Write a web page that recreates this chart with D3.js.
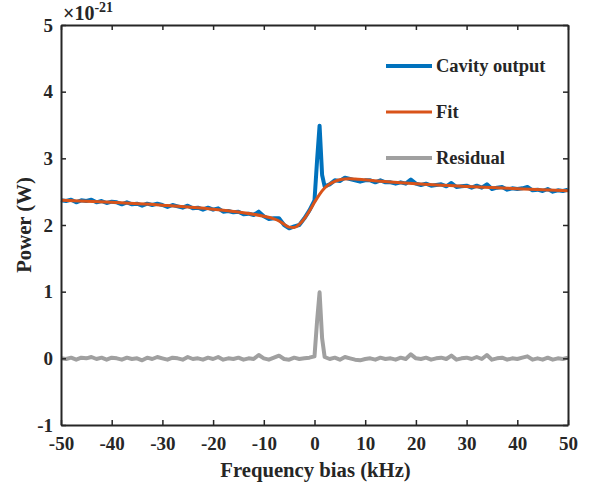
<!DOCTYPE html>
<html>
<head>
<meta charset="utf-8">
<script src="https://cdn.jsdelivr.net/npm/d3@7"></script>
<style>
  body { margin: 0; background: #fff; }
  text { font-family: "Liberation Serif", "Times New Roman", serif; font-weight: bold; fill: #262626; }
</style>
</head>
<body>
<div id="chart-area"></div>
<script>
/* Data (power in units of 1e-21 W) */
var xTicks = [-50, -40, -30, -20, -10, 0, 10, 20, 30, 40, 50];
var yTicks = [-1, 0, 1, 2, 3, 4, 5];

// measured cavity output
var cavityFreq = [-50,-49,-48,-47,-46,-45,-44,-43,-42,-41,-40,-39,-38,-37,-36,-35,-34,-33,-32,-31,
  -30,-29,-28,-27,-26,-25,-24,-23,-22,-21,-20,-19,-18,-17,-16,-15,-14,-13,-12,-11,
  -10,-9,-8,-7,-6,-5,-4,-3,-2,-1,0,0.5,1,1.5,2,3,4,5,6,7,8,9,
  10,11,12,13,14,15,16,17,18,19,20,21,22,23,24,25,26,27,28,29,
  30,31,32,33,34,35,36,37,38,39,40,41,42,43,44,45,46,47,48,49,50];
var cavityPower = [2.37,2.36,2.38,2.34,2.37,2.36,2.38,2.34,2.36,2.33,2.35,2.34,2.31,2.34,2.31,2.32,2.29,2.32,2.30,2.32,
  2.30,2.27,2.30,2.28,2.26,2.29,2.25,2.26,2.23,2.26,2.23,2.25,2.20,2.21,2.19,2.20,2.16,2.17,2.15,2.20,
  2.13,2.09,2.10,2.10,2.00,1.95,1.98,2.00,2.10,2.22,2.37,2.96,3.49,2.75,2.58,2.61,2.67,2.66,2.71,2.69,2.67,2.65,
  2.67,2.67,2.64,2.67,2.64,2.64,2.62,2.64,2.62,2.68,2.62,2.60,2.62,2.59,2.60,2.61,2.58,2.63,2.57,2.58,
  2.59,2.56,2.59,2.56,2.61,2.54,2.56,2.57,2.53,2.55,2.54,2.55,2.57,2.52,2.53,2.51,2.54,2.50,2.52,2.51,2.53];

// fitted lineshape
var fitFreq = [-50,-40,-30,-20,-15,-10,-8,-7,-6,-5,-4,-3,-2,-1,0,1,2,3,4,5,6,7,8,10,15,20,25,30,40,50];
var fitPower = [2.37,2.34,2.297,2.238,2.194,2.131,2.092,2.06,2.01,1.968,1.962,2.01,2.095,2.21,2.34,2.46,2.555,2.615,2.655,2.678,2.69,2.693,2.69,2.677,2.644,2.618,2.598,2.578,2.545,2.515];

// residual = cavity - fit
var residualPower = [0.00,-0.01,0.01,-0.02,0.01,0.00,0.02,-0.01,0.01,-0.02,0.01,0.00,-0.02,0.01,-0.01,0.00,-0.03,0.01,-0.01,0.02,
  0.00,-0.02,0.01,0.00,-0.02,0.02,-0.01,0.00,-0.02,0.01,-0.01,0.02,-0.02,0.00,-0.01,0.01,-0.02,0.00,-0.01,0.05,
  0.00,-0.02,0.01,0.04,-0.01,-0.02,0.01,-0.01,0.00,0.01,0.03,0.55,0.99,0.30,0.02,-0.01,0.01,-0.02,0.02,0.00,-0.02,-0.03,
  -0.01,0.00,-0.02,0.01,-0.01,0.00,-0.02,0.01,-0.01,0.06,0.00,-0.01,0.01,-0.02,0.00,0.01,-0.01,0.04,-0.02,0.00,
  0.01,-0.01,0.02,-0.01,0.05,-0.02,0.00,0.01,-0.02,0.00,-0.01,0.01,0.03,-0.02,0.00,-0.02,0.01,-0.02,0.00,-0.01,0.01];

var seriesNames = ["Cavity output", "Fit", "Residual"];
var seriesColors = ["#0072BD", "#D95319", "#A0A0A0"];
var seriesWidths = [4, 3, 4];

/* Layout */
var margin = {top: 25, right: 29, bottom: 60, left: 61};
var width = 597 - margin.left - margin.right;
var height = 485 - margin.top - margin.bottom;

var svg = d3.select("#chart-area").append("svg")
  .attr("width", 597)
  .attr("height", 485);
var g = svg.append("g")
  .attr("transform", "translate(" + margin.left + "," + margin.top + ")");

/* Scales */
var x = d3.scaleLinear().domain([-50, 50]).range([0, width]);
var y = d3.scaleLinear().domain([-1, 5]).range([height, 0]);

// plain hyphen for negatives, like the original
var fmt = d => String(d);

/* Lines */
var line = d3.line().x(d => x(d[0])).y(d => y(d[1]));
var smooth = d3.line().x(d => x(d[0])).y(d => y(d[1])).curve(d3.curveMonotoneX);

var plot = g.append("g");
plot.append("path")
  .datum(d3.zip(cavityFreq, cavityPower))
  .attr("d", line)
  .attr("fill", "none")
  .attr("stroke", seriesColors[0])
  .attr("stroke-width", seriesWidths[0])
  .attr("stroke-linejoin", "round");
plot.append("path")
  .datum(d3.zip(fitFreq, fitPower))
  .attr("d", smooth)
  .attr("fill", "none")
  .attr("stroke", seriesColors[1])
  .attr("stroke-width", seriesWidths[1]);
plot.append("path")
  .datum(d3.zip(cavityFreq, residualPower))
  .attr("d", line)
  .attr("fill", "none")
  .attr("stroke", seriesColors[2])
  .attr("stroke-width", seriesWidths[2])
  .attr("stroke-linejoin", "round");

/* Axes (box with inward ticks) */
function styleAxis(sel) {
  sel.attr("font-family", null).attr("font-size", null);
  sel.select(".domain").attr("stroke", "#262626").attr("stroke-width", 2);
  sel.selectAll(".tick line").attr("stroke", "#262626").attr("stroke-width", 1.5);
  sel.selectAll(".tick text").attr("font-size", "19px").attr("fill", "#262626");
}

g.append("g")
  .attr("transform", "translate(0," + height + ")")
  .call(d3.axisBottom(x).tickValues(xTicks).tickSize(-5).tickPadding(12).tickFormat(fmt).tickSizeOuter(0))
  .call(styleAxis);
g.append("g")
  .call(d3.axisTop(x).tickValues(xTicks).tickSize(-5).tickFormat("").tickSizeOuter(0))
  .call(styleAxis);
g.append("g")
  .call(d3.axisLeft(y).tickValues(yTicks).tickSize(-5).tickPadding(8).tickFormat(fmt).tickSizeOuter(0))
  .call(styleAxis);
g.append("g")
  .attr("transform", "translate(" + width + ",0)")
  .call(d3.axisRight(y).tickValues(yTicks).tickSize(-5).tickFormat("").tickSizeOuter(0))
  .call(styleAxis);

/* Exponent label */
var expo = g.append("text")
  .attr("x", 2)
  .attr("y", -5)
  .attr("font-size", "20px");
expo.append("tspan").text("\u00D710");
expo.append("tspan").attr("dy", -8).attr("font-size", "14px").text("-21");

/* Axis labels */
g.append("text")
  .attr("x", width / 2 + 1)
  .attr("y", height + 52)
  .attr("text-anchor", "middle")
  .attr("font-size", "20.7px")
  .text("Frequency bias (kHz)");

g.append("text")
  .attr("transform", "rotate(-90)")
  .attr("x", -200)
  .attr("y", -30)
  .attr("text-anchor", "middle")
  .attr("font-size", "20.7px")
  .text("Power (W)");

/* Legend */
var legend = g.append("g").attr("transform", "translate(325,41)");
seriesNames.forEach((name, i) => {
  var row = legend.append("g").attr("transform", "translate(0," + (i * 46) + ")");
  row.append("line")
    .attr("x1", 0).attr("x2", 46)
    .attr("stroke", seriesColors[i])
    .attr("stroke-width", seriesWidths[i]);
  row.append("text")
    .attr("x", 50)
    .attr("y", 6)
    .attr("font-size", "18.5px")
    .text(name);
});
</script>
</body>
</html>
